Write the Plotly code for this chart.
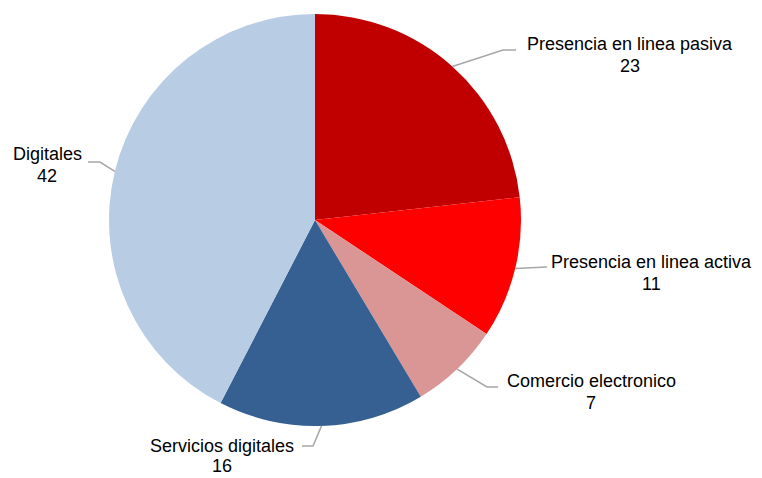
import math
import plotly.graph_objects as go

# Share of companies by stage of digital presence
categories = [
    "Presencia en linea pasiva",
    "Presencia en linea activa",
    "Comercio electronico",
    "Servicios digitales",
    "Digitales",
]
values = [23, 11, 7, 16, 42]
colors = ["#C00000", "#FF0000", "#DA9694", "#366092", "#B8CCE4"]

W, H = 762, 478
# pie geometry in pixels
CX, CY, R = 315, 220, 206

# label placement: (elbow x, elbow y, line end x, text centre x, name y, value y)
label_layout = [
    (503, 50, 516, 630, 44, 66),
    (547, 267, 547, 651, 262, 284),
    (487, 387, 498, 591, 381, 403),
    (313, 446, 302, 222, 446, 466),
    (100, 162, 88, 47, 154, 176),
]

fig = go.Figure(
    go.Pie(
        labels=categories,
        values=values,
        sort=False,
        direction="clockwise",
        rotation=0,
        marker=dict(colors=colors, line=dict(width=0)),
        textinfo="none",
        hoverinfo="label+value",
        domain=dict(
            x=[(CX - R) / W, (CX + R) / W],
            y=[1 - (CY + R) / H, 1 - (CY - R) / H],
        ),
        showlegend=False,
    )
)


def px(x):
    return x / W


def py(y):
    return 1 - y / H


font = dict(family="Liberation Sans, Arial, sans-serif", size=18, color="#000000")

total = sum(values)
cum = 0
shapes = []
annotations = []
for name, v, (ex, ey, lx, tx, ny, vy) in zip(categories, values, label_layout):
    mid = (cum + v / 2) / total * 2 * math.pi
    cum += v
    sx = CX + R * math.sin(mid)
    sy = CY - R * math.cos(mid)
    path = f"M {px(sx)} {py(sy)} L {px(ex)} {py(ey)} L {px(lx)} {py(ey)}"
    shapes.append(
        dict(type="path", xref="paper", yref="paper", path=path,
             line=dict(color="#A6A6A6", width=1.5))
    )
    for text, y in ((name, ny), (str(v), vy)):
        annotations.append(
            dict(x=px(tx), y=py(y), xref="paper", yref="paper",
                 text=text, showarrow=False, borderpad=0,
                 xanchor="center", yanchor="middle", align="center",
                 font=font)
        )

fig.update_layout(
    width=W,
    height=H,
    margin=dict(l=0, r=0, t=0, b=0),
    paper_bgcolor="white",
    plot_bgcolor="white",
    shapes=shapes,
    annotations=annotations,
)

fig.write_html("out.html")
